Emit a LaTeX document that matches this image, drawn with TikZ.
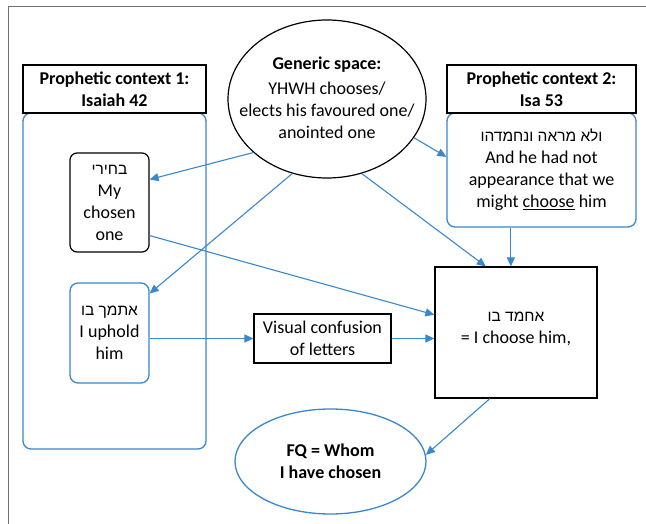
\documentclass[tikz,border=0pt]{standalone}
\usepackage{fontspec}
\setmainfont{Carlito}
\newfontfamily\heb[Script=Hebrew]{Liberation Sans}
\newcommand{\hebtxt}[1]{{\fontsize{15.5}{22}\heb\beginR #1\endR}}
\TeXXeTstate=1
\usetikzlibrary{arrows.meta,shapes.geometric,calc}
\definecolor{myblue}{RGB}{59,135,204}
\definecolor{framegray}{RGB}{112,112,112}
\begin{document}
\begin{tikzpicture}[x=1pt,y=-1pt,
  every node/.style={font=\fontsize{18}{22}\selectfont, align=center, inner sep=0pt},
  boldtxt/.style={font=\fontsize{18}{22}\selectfont\bfseries},
  blkbox/.style={draw=black, line width=1.2pt},
  blkround/.style={draw=black, line width=1.2pt, rounded corners=7pt},
  bluebox/.style={draw=myblue, line width=1.3pt, rounded corners=8pt},
  arr/.style={draw=myblue, line width=1.1pt, -{Triangle[length=9pt,width=8pt]}}]
\useasboundingbox (0,0) rectangle (646,524);
\fill[white] (0,0) rectangle (646,524);
\draw[framegray, line width=1.8pt] (646,6.5) -- (8.5,6.5) -- (8.5,524);

% left context
\node[bluebox, minimum width=183pt, minimum height=336pt] (c1) at (114.5,281) {};
\node[blkbox, fill=white, minimum width=183pt, minimum height=48pt, boldtxt] (h1) at (114.5,89) {Prophetic context 1:\\Isaiah 42};
\node[blkround, minimum width=79pt, minimum height=99pt] (chosen) at (109.5,202.5) {\hebtxt{בחירי}\\My\\chosen\\one};
\node[bluebox, minimum width=79pt, minimum height=100pt] (uphold) at (109.5,333) {\hebtxt{אתמך בו}\\I uphold\\him};

% generic space
\node[ellipse, draw=black, line width=1.2pt, minimum width=198pt, minimum height=158pt] (gen) at (327,99) {};
\node (gentxt) at ($(gen.center)+(0,-1.5)$) {\textbf{Generic space:}\\[3pt]YHWH chooses/\\elects his favoured one/\\anointed one};

% right context
\node[bluebox, minimum width=189pt, minimum height=114pt] (rb) at (541.5,170) {\hebtxt{ולא מראה ונחמדהו}\\And he had not\\appearance that we\\might \underline{choose} him};
\node[blkbox, fill=white, minimum width=189pt, minimum height=48pt, boldtxt] (h2) at (541.5,89) {Prophetic context 2:\\Isa 53};

% middle
\node[blkbox, minimum width=137pt, minimum height=49pt] (visual) at (322.5,338.5) {Visual confusion\\of letters};
\node[blkbox, minimum width=162pt, minimum height=131pt] (choose) at (516,332.5) {};
\node (choosetxt) at ($(choose.center)+(0,-4)$) {\hebtxt{אחמד בו}\\= I choose him,};
\node[ellipse, draw=myblue, line width=1.3pt, minimum width=191pt, minimum height=105pt] (fq) at (330.5,461.5) {};
\node[boldtxt] (fqtxt) at (fq.center) {FQ = Whom\\I have chosen};

% connectors
\draw[arr] (gen.216) -- ($(chosen.north east)!0.27!(chosen.south east)$);
\draw[arr] (gen.245) -- ($(uphold.north east)!0.11!(uphold.south east)$);
\draw[arr] (gen.336) -- ($(rb.north west)!0.386!(rb.south west)$);
\draw[arr] (gen.295) -- ($(choose.north west)!0.315!(choose.north east)$);
\coordinate (rbs) at ($(rb.south west)!0.339!(rb.south east)$);
\draw[arr] (rbs) -- (rbs |- choose.north);
\draw[arr] ($(chosen.north east)!0.83!(chosen.south east)$) -- ($(choose.north west)!0.366!(choose.south west)$);
\draw[arr] (visual.west -| uphold.east) -- (visual.west);
\draw[arr] (visual.east) -- (visual.east -| choose.west);
\draw[arr] ($(choose.south west)!0.34!(choose.south east)$) -- (fq.4);
\end{tikzpicture}
\end{document}
